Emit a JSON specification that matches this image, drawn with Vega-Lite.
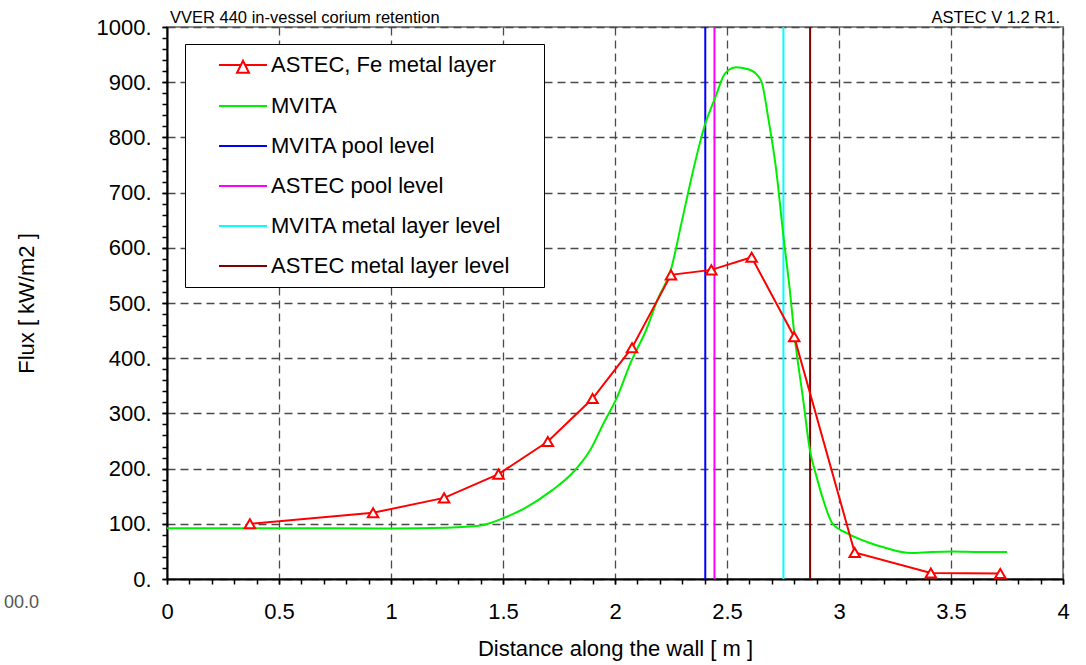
{
  "$schema": "https://vega.github.io/schema/vega-lite/v6.json",
  "width": 896,
  "height": 552,
  "autosize": {"type": "none"},
  "padding": {"left": 167, "top": 27, "right": 23, "bottom": 86},
  "config": {
    "font": "Liberation Sans",
    "view": {"stroke": "#8c8c8c", "strokeWidth": 2},
    "axis": {"labelFont": "Liberation Sans", "titleFont": "Liberation Sans"}
  },
  "datasets": {
    "astec": [
      {"dist": 0.37, "flux": 100},
      {"dist": 0.92, "flux": 120},
      {"dist": 1.237, "flux": 147},
      {"dist": 1.48, "flux": 190},
      {"dist": 1.70, "flux": 249},
      {"dist": 1.90, "flux": 327},
      {"dist": 2.076, "flux": 419},
      {"dist": 2.25, "flux": 551},
      {"dist": 2.43, "flux": 560},
      {"dist": 2.61, "flux": 583},
      {"dist": 2.80, "flux": 439},
      {"dist": 3.07, "flux": 48},
      {"dist": 3.41, "flux": 11},
      {"dist": 3.72, "flux": 10}
    ],
    "mvita": [
      {"dist": 0.0, "flux": 92},
      {"dist": 0.5, "flux": 92},
      {"dist": 1.0, "flux": 91.5},
      {"dist": 1.25, "flux": 93},
      {"dist": 1.4, "flux": 97},
      {"dist": 1.5, "flux": 110},
      {"dist": 1.6, "flux": 129},
      {"dist": 1.72, "flux": 161},
      {"dist": 1.81, "flux": 192},
      {"dist": 1.89, "flux": 234},
      {"dist": 1.95, "flux": 283},
      {"dist": 2.01, "flux": 330},
      {"dist": 2.07, "flux": 392},
      {"dist": 2.14, "flux": 452},
      {"dist": 2.19, "flux": 506},
      {"dist": 2.25, "flux": 561},
      {"dist": 2.30, "flux": 651},
      {"dist": 2.35, "flux": 742},
      {"dist": 2.40, "flux": 821},
      {"dist": 2.45, "flux": 875},
      {"dist": 2.49, "flux": 915},
      {"dist": 2.54, "flux": 927},
      {"dist": 2.59, "flux": 924},
      {"dist": 2.63, "flux": 915},
      {"dist": 2.655, "flux": 900},
      {"dist": 2.685, "flux": 833},
      {"dist": 2.72, "flux": 740},
      {"dist": 2.75, "flux": 628},
      {"dist": 2.78, "flux": 525},
      {"dist": 2.80, "flux": 446},
      {"dist": 2.84, "flux": 325},
      {"dist": 2.87, "flux": 234},
      {"dist": 2.90, "flux": 185},
      {"dist": 2.93, "flux": 143},
      {"dist": 2.97, "flux": 101},
      {"dist": 3.035, "flux": 83},
      {"dist": 3.125, "flux": 67},
      {"dist": 3.21, "flux": 56},
      {"dist": 3.32, "flux": 47},
      {"dist": 3.41, "flux": 49},
      {"dist": 3.51, "flux": 50},
      {"dist": 3.63, "flux": 49},
      {"dist": 3.75, "flux": 49}
    ],
    "levels": [
      {"series": "MVITA pool level", "dist": 2.403},
      {"series": "ASTEC pool level", "dist": 2.444},
      {"series": "MVITA metal layer level", "dist": 2.752},
      {"series": "ASTEC metal layer level", "dist": 2.871}
    ]
  },
  "layer": [
    {
      "data": {"name": "levels"},
      "mark": {"type": "rule", "strokeWidth": 2},
      "encoding": {
        "x": {"field": "dist", "type": "quantitative", "axis": null,
              "scale": {"domain": [0, 4], "nice": false, "zero": false}},
        "color": {
          "field": "series", "type": "nominal",
          "scale": {
            "domain": ["ASTEC, Fe metal layer", "MVITA", "MVITA pool level", "ASTEC pool level", "MVITA metal layer level", "ASTEC metal layer level"],
            "range": ["#ff0000", "#00ee00", "#0000ff", "#ff00ff", "#00ffff", "#800000"]
          },
          "legend": {
            "title": null,
            "orient": "none",
            "legendX": 18,
            "legendY": 17,
            "direction": "vertical",
            "fillColor": "white",
            "strokeColor": "black",
            "padding": 10,
            "rowPadding": 18,
            "symbolOffset": 37,
            "symbolSize": 400,
            "symbolStrokeWidth": 2,
            "symbolType": "stroke",
            "labelOffset": 17,
            "labelFontSize": 22,
            "labelColor": "black",
            "labelLimit": 500,
            "labelExpr": "datum.label + '\u00a0\u00a0\u00a0\u00a0\u200b'",
            "encode": {
              "symbols": {
                "update": {
                  "shape": {"signal": "datum.value === 'ASTEC, Fe metal layer' ? 'M-2.4,0H-0.22M0.22,0H2.4M0,-0.43L0.6,0.77L-0.6,0.77Z' : 'M-2.4,0H2.4'"},
                  "fill": {"value": "transparent"}
                }
              }
            }
          }
        }
      }
    },
    {
      "data": {"name": "mvita"},
      "mark": {"type": "line", "strokeWidth": 2, "interpolate": "monotone"},
      "encoding": {
        "x": {
          "field": "dist", "type": "quantitative",
          "scale": {"domain": [0, 4], "nice": false, "zero": false},
          "axis": {
            "orient": "bottom",
            "values": [0, 0.5, 1, 1.5, 2, 2.5, 3, 3.5, 4],
            "format": "~g",
            "grid": true, "gridDash": [8, 5], "gridColor": "#4a4a4a", "gridWidth": 1.3,
            "domainColor": "black", "domainWidth": 2,
            "tickColor": "black", "tickSize": 5, "tickWidth": 1.5,
            "labelFontSize": 22, "labelColor": "black", "labelPadding": 17,
            "labelFlush": false, "labelOverlap": false,
            "title": "Distance along the wall [ m ]",
            "titleFontSize": 22, "titleFontWeight": "normal", "titleColor": "black", "titlePadding": 16
          }
        },
        "y": {
          "field": "flux", "type": "quantitative",
          "scale": {"domain": [0, 1000], "nice": false},
          "axis": {
            "orient": "left",
            "values": [0, 100, 200, 300, 400, 500, 600, 700, 800, 900, 1000],
            "grid": true, "gridDash": [8, 5], "gridColor": "#4a4a4a", "gridWidth": 1.3,
            "domainColor": "black", "domainWidth": 2,
            "tickColor": "black", "tickSize": 5, "tickWidth": 1.5,
            "labelFontSize": 22, "labelColor": "black", "labelPadding": 11,
            "labelExpr": "datum.value + '.'",
            "labelOverlap": false,
            "title": "Flux [ kW/m2 ]",
            "titleFontSize": 22, "titleFontWeight": "normal", "titleColor": "black", "titlePadding": 57
          }
        },
        "color": {"datum": "MVITA", "type": "nominal"}
      }
    },
    {
      "data": {"name": "astec"},
      "mark": {"type": "line", "strokeWidth": 2},
      "encoding": {
        "x": {
          "field": "dist", "type": "quantitative",
          "axis": {
            "orient": "bottom",
            "values": [0, 0.1, 0.2, 0.3, 0.4, 0.5, 0.6, 0.7, 0.8, 0.9, 1, 1.1, 1.2, 1.3, 1.4, 1.5, 1.6, 1.7, 1.8, 1.9, 2, 2.1, 2.2, 2.3, 2.4, 2.5, 2.6, 2.7, 2.8, 2.9, 3, 3.1, 3.2, 3.3, 3.4, 3.5, 3.6, 3.7, 3.8, 3.9, 4],
            "grid": false, "domain": false, "labels": false, "title": null,
            "tickColor": "black", "tickSize": 5, "tickWidth": 1.5
          }
        },
        "y": {
          "field": "flux", "type": "quantitative",
          "axis": {
            "orient": "left",
            "values": [0, 20, 40, 60, 80, 100, 120, 140, 160, 180, 200, 220, 240, 260, 280, 300, 320, 340, 360, 380, 400, 420, 440, 460, 480, 500, 520, 540, 560, 580, 600, 620, 640, 660, 680, 700, 720, 740, 760, 780, 800, 820, 840, 860, 880, 900, 920, 940, 960, 980, 1000],
            "grid": false, "domain": false, "labels": false, "title": null,
            "tickColor": "black", "tickSize": 5, "tickWidth": 1.5
          }
        },
        "color": {"datum": "ASTEC, Fe metal layer", "type": "nominal"}
      }
    },
    {
      "data": {"name": "astec"},
      "mark": {"type": "point", "shape": "triangle-up", "filled": true, "fill": "white", "stroke": "#ff0000", "strokeWidth": 2, "size": 110, "opacity": 1},
      "encoding": {
        "x": {"field": "dist", "type": "quantitative", "axis": null},
        "y": {"field": "flux", "type": "quantitative", "axis": null}
      }
    },
    {
      "data": {"values": [{}]},
      "mark": {"type": "text", "text": "VVER 440 in-vessel corium retention", "align": "left", "baseline": "alphabetic", "dx": 3, "dy": -4, "fontSize": 16.5, "color": "black"},
      "encoding": {
        "x": {"datum": 0, "type": "quantitative", "axis": null},
        "y": {"datum": 1000, "type": "quantitative", "axis": null}
      }
    },
    {
      "data": {"values": [{}]},
      "mark": {"type": "text", "text": "ASTEC V 1.2 R1.", "align": "right", "baseline": "alphabetic", "dx": -3, "dy": -4, "fontSize": 16.5, "color": "black"},
      "encoding": {
        "x": {"datum": 4, "type": "quantitative", "axis": null},
        "y": {"datum": 1000, "type": "quantitative", "axis": null}
      }
    },
    {
      "data": {"values": [{}]},
      "mark": {"type": "text", "text": "00.0", "align": "right", "baseline": "middle", "fontSize": 18, "color": "#555555"},
      "encoding": {
        "x": {"datum": -0.5714, "type": "quantitative", "axis": null},
        "y": {"datum": -43.5, "type": "quantitative", "axis": null}
      }
    }
  ],
  "resolve": {"axis": {"x": "independent", "y": "independent"}}
}
